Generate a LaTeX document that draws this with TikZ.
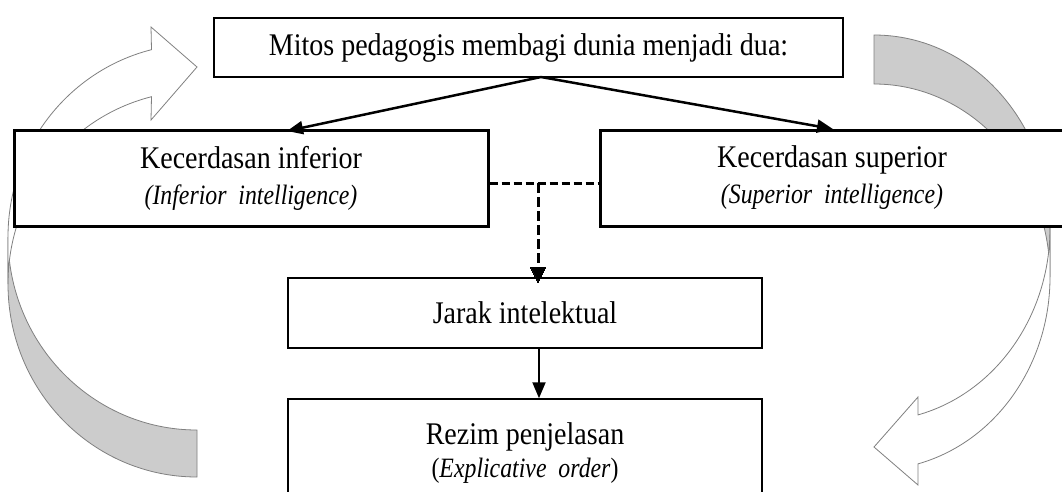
\documentclass[tikz,border=0pt]{standalone}
\usepackage{fontspec}
\setmainfont{Liberation Serif}[FakeStretch=0.89]
\newfontfamily\condit{Liberation Serif}[FakeStretch=0.85]
\usetikzlibrary{arrows.meta,calc}
\newcommand\subit[1]{{\fontsize{28}{35}\condit #1}}
\begin{document}
\begin{tikzpicture}[x=1pt,y=-1pt,
  box/.style={draw=black, fill=white, rectangle, inner sep=0pt, align=center,
    font=\fontsize{31.5}{36}\selectfont},
  thinbox/.style={box, line width=1.5pt},
  thickbox/.style={box, line width=3pt},
  conn/.style={draw=black, line width=2.5pt, -{Triangle[length=16pt,width=13pt]}},
  dashconn/.style={draw=black, line width=3pt, dash pattern=on 8pt off 4pt},
  backface/.style={draw=black!50, line width=0.8pt, fill=black!20},
  shaft/.style={draw=black!50, line width=0.8pt, fill=white, line join=miter},
]
\clip (0,0) rectangle (1062,491);
\fill[white] (0,0) rectangle (1062,491);

% left curved arrow
\draw[backface] (8,237) arc[start angle=180, end angle=90, x radius=189, y radius=193]
  -- (197,477) arc[start angle=90, end angle=180, x radius=189, y radius=193] -- cycle;
\draw[shaft] (8,237) arc[start angle=180, end angle=256.07, x radius=189, y radius=193]
  -- (151,27) -- (197,67) -- (151,120) -- (151.5,96.7)
  arc[start angle=256.07, end angle=180, x radius=189, y radius=193] -- cycle;

% right curved arrow
\draw[backface] (874,35) arc[start angle=270, end angle=360, x radius=176, y radius=193]
  -- (1050,277) arc[start angle=0, end angle=-90, x radius=176, y radius=193] -- cycle;
\draw[shaft] (1050,277) arc[start angle=0, end angle=75.52, x radius=176, y radius=193]
  -- (918,485) -- (874,447) -- (918,397) -- (918,414.9)
  arc[start angle=75.52, end angle=0, x radius=176, y radius=193] -- cycle;

% boxes
\node[thinbox, minimum width=629pt, minimum height=59pt] (top) at (528.5,47.5)
  {Mitos pedagogis membagi dunia menjadi dua:};
\node[thickbox, minimum width=474pt, minimum height=96pt] (left) at (251,178)
  {Kecerdasan inferior\\\subit{\itshape (Inferior\ \ intelligence)}};
\node[thickbox, minimum width=464pt, minimum height=96pt] (right) at (832,178)
  {Kecerdasan superior\\\subit{\itshape (Superior\ \ intelligence)}};
\node[thinbox, minimum width=474pt, minimum height=70pt] (mid) at (525,313)
  {Jarak intelektual};
\node[thinbox, minimum width=474pt, minimum height=109pt] (bot) at (525,453.5)
  {Rezim penjelasan\\[-3pt]\subit{(\textit{Explicative\ \ order})}};

% connectors
\coordinate (apex) at (541,77);
\coordinate (lt) at (287,131);
\coordinate (rt) at (833,129);
\draw[conn] (apex) -- (lt);
\draw[conn] (apex) -- (rt);
\coordinate (dl) at ($(left.east)+(0,5)$);
\coordinate (dr) at ($(right.west)+(0,5)$);
\draw[dashconn] (dl) -- (dr);
\coordinate (dj) at ($(dl)!0.446!(dr)$);
\draw[dashconn, dash pattern=on 10pt off 4pt] (dj) -- (dj |- mid.north);
\draw[draw=black, line width=0pt, fill=black]
  ($(dj |- mid.north)+(0,5)$) -- ++(-7.5,-15) -- ++(15,0) -- cycle;
\draw[conn, line width=2pt] ($(mid.south)+(14,0)$) -- ($(bot.north)+(14,0)$);
\end{tikzpicture}
\end{document}
